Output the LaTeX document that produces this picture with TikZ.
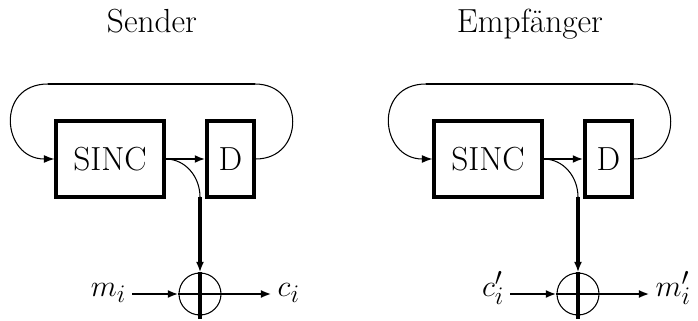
\documentclass[tikz,border=0pt]{standalone}
\usepackage{fontspec}
\usepackage{tikz}
\usetikzlibrary{
  arrows.meta,
  positioning
}

\begin{document}
\begin{tikzpicture}[
  font=\fontsize{19}{23}\selectfont,
  block/.style={draw,line width=1.8pt,minimum height=1.52cm,inner sep=0pt},
  xorc/.style={circle,draw,line width=0.6pt,minimum size=0.84cm,inner sep=0pt},
  lbl/.style={text height=1.2ex,text depth=0.6ex},
  sig/.style={line width=1.3pt},
  bus/.style={line width=1.8pt},
  fb/.style={line width=0.6pt},
  tip/.style={-{Latex[length=6pt,width=4.5pt]}}
]
\useasboundingbox (0,0) rectangle (13.96,6.4);

% Sender
\begin{scope}
\node[anchor=base] (ttl1) at (3.04,5.76) {Sender};
\node[block,minimum width=2.16cm] (sinc1) at (2.2,3.22) {SINC};
\node[block,minimum width=0.94cm] (d1) at (4.61,3.22) {D};
\node[xorc] (xor1) at (4.0,0.52) {};
\coordinate (tl1) at (0.96,4.72);
\coordinate (tr1) at (5.10,4.72);
\coordinate (br1) at (4.0,2.46);
\node[lbl,left=0.92cm of xor1] (in1) {$m_i$};
\node[lbl,right=1.0cm of xor1] (out1) {$c_i$};

\draw[sig] (tl1) -- (tr1);
\draw[fb,tip] (tl1) to[out=180,in=180,looseness=1.8] (sinc1.west);
\draw[fb] (d1.east) to[out=0,in=0,looseness=1.7] (tr1);
\draw[sig,tip] (sinc1) -- (d1);
\draw[fb] (sinc1.east) to[out=0,in=90] (br1);
\draw[bus,tip] (br1) -- (xor1.north);
\draw[bus,shorten >=-0.06cm] (xor1.north) -- (xor1.south);
\draw[sig,tip] (in1.east |- xor1) -- (xor1.west);
\draw[sig] (xor1.west) -- (xor1.east);
\draw[sig,tip] (xor1.east) -- (out1.west |- xor1);
\end{scope}

% Empfaenger
\begin{scope}[xshift=7.56cm]
\node[anchor=base] (ttl2) at (3.04,5.76) {Empfänger};
\node[block,minimum width=2.16cm] (sinc2) at (2.2,3.22) {SINC};
\node[block,minimum width=0.94cm] (d2) at (4.61,3.22) {D};
\node[xorc] (xor2) at (4.0,0.52) {};
\coordinate (tl2) at (0.96,4.72);
\coordinate (tr2) at (5.10,4.72);
\coordinate (br2) at (4.0,2.46);
\node[lbl,left=0.92cm of xor2] (in2) {$c'_i$};
\node[lbl,right=1.0cm of xor2] (out2) {$m'_i$};

\draw[sig] (tl2) -- (tr2);
\draw[fb,tip] (tl2) to[out=180,in=180,looseness=1.8] (sinc2.west);
\draw[fb] (d2.east) to[out=0,in=0,looseness=1.7] (tr2);
\draw[sig,tip] (sinc2) -- (d2);
\draw[fb] (sinc2.east) to[out=0,in=90] (br2);
\draw[bus,tip] (br2) -- (xor2.north);
\draw[bus,shorten >=-0.06cm] (xor2.north) -- (xor2.south);
\draw[sig,tip] (in2.east |- xor2) -- (xor2.west);
\draw[sig] (xor2.west) -- (xor2.east);
\draw[sig,tip] (xor2.east) -- (out2.west |- xor2);
\end{scope}

\end{tikzpicture}
\end{document}
